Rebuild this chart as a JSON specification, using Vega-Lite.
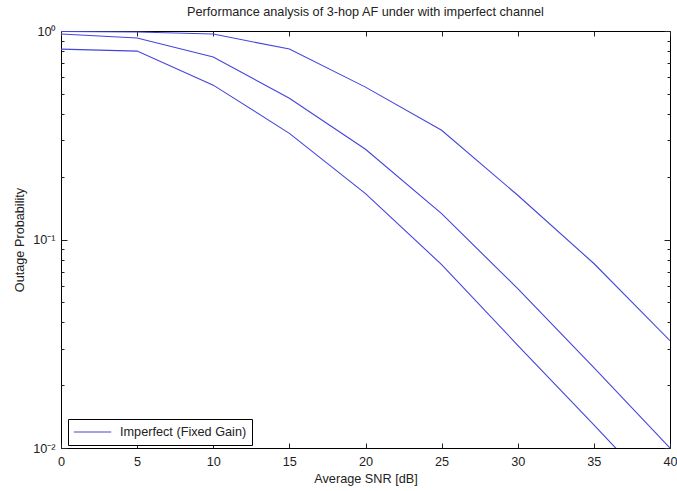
{
  "$schema": "https://vega.github.io/schema/vega-lite/v6.json",
  "width": 609,
  "height": 417,
  "autosize": {"type": "none"},
  "padding": {"left": 61, "top": 31, "right": 7, "bottom": 43},
  "background": "white",
  "config": {
    "font": "Liberation Sans",
    "view": {"stroke": "#000", "strokeWidth": 1},
    "axis": {
      "domain": false,
      "grid": false,
      "tickColor": "#222",
      "labelColor": "#222",
      "labelFontSize": 12.7,
      "titleFontSize": 12.7,
      "titleFontWeight": "normal",
      "titleColor": "#222"
    }
  },
  "title": {
    "text": "Performance analysis of 3-hop AF under with imperfect channel",
    "fontSize": 12.7,
    "fontWeight": "normal",
    "color": "#222",
    "offset": 6
  },
  "data": {
    "values": [
      {"snr": 0, "p": 0.995, "curve": "A", "series": "Imperfect (Fixed Gain)"},
      {"snr": 5, "p": 0.989, "curve": "A", "series": "Imperfect (Fixed Gain)"},
      {"snr": 10, "p": 0.967, "curve": "A", "series": "Imperfect (Fixed Gain)"},
      {"snr": 15, "p": 0.819, "curve": "A", "series": "Imperfect (Fixed Gain)"},
      {"snr": 20, "p": 0.538, "curve": "A", "series": "Imperfect (Fixed Gain)"},
      {"snr": 25, "p": 0.334, "curve": "A", "series": "Imperfect (Fixed Gain)"},
      {"snr": 30, "p": 0.163, "curve": "A", "series": "Imperfect (Fixed Gain)"},
      {"snr": 35, "p": 0.0767, "curve": "A", "series": "Imperfect (Fixed Gain)"},
      {"snr": 40, "p": 0.0327, "curve": "A", "series": "Imperfect (Fixed Gain)"},
      {"snr": 0, "p": 0.967, "curve": "B", "series": "Imperfect (Fixed Gain)"},
      {"snr": 5, "p": 0.925, "curve": "B", "series": "Imperfect (Fixed Gain)"},
      {"snr": 10, "p": 0.75, "curve": "B", "series": "Imperfect (Fixed Gain)"},
      {"snr": 15, "p": 0.476, "curve": "B", "series": "Imperfect (Fixed Gain)"},
      {"snr": 20, "p": 0.271, "curve": "B", "series": "Imperfect (Fixed Gain)"},
      {"snr": 25, "p": 0.133, "curve": "B", "series": "Imperfect (Fixed Gain)"},
      {"snr": 30, "p": 0.0581, "curve": "B", "series": "Imperfect (Fixed Gain)"},
      {"snr": 35, "p": 0.0243, "curve": "B", "series": "Imperfect (Fixed Gain)"},
      {"snr": 40, "p": 0.01, "curve": "B", "series": "Imperfect (Fixed Gain)"},
      {"snr": 0, "p": 0.819, "curve": "C", "series": "Imperfect (Fixed Gain)"},
      {"snr": 5, "p": 0.801, "curve": "C", "series": "Imperfect (Fixed Gain)"},
      {"snr": 10, "p": 0.55, "curve": "C", "series": "Imperfect (Fixed Gain)"},
      {"snr": 15, "p": 0.323, "curve": "C", "series": "Imperfect (Fixed Gain)"},
      {"snr": 20, "p": 0.166, "curve": "C", "series": "Imperfect (Fixed Gain)"},
      {"snr": 25, "p": 0.0758, "curve": "C", "series": "Imperfect (Fixed Gain)"},
      {"snr": 30, "p": 0.0311, "curve": "C", "series": "Imperfect (Fixed Gain)"},
      {"snr": 35, "p": 0.0129, "curve": "C", "series": "Imperfect (Fixed Gain)"},
      {"snr": 40, "p": 0.0053, "curve": "C", "series": "Imperfect (Fixed Gain)"}
    ]
  },
  "resolve": {"axis": {"x": "independent", "y": "independent"}},
  "layer": [
    {
      "mark": {"type": "line", "clip": true, "strokeWidth": 1.1},
      "encoding": {
        "x": {
          "field": "snr", "type": "quantitative",
          "scale": {"domain": [0, 40], "nice": false, "zero": false},
          "axis": {
            "orient": "bottom", "title": "Average SNR [dB]",
            "values": [0, 5, 10, 15, 20, 25, 30, 35, 40],
            "tickSize": -5, "labelPadding": 12, "titlePadding": 5,
            "labelFlush": false
          }
        },
        "y": {
          "field": "p", "type": "quantitative",
          "scale": {"type": "log", "domain": [0.01, 1], "nice": false},
          "axis": {
            "orient": "left", "title": "Outage Probability",
            "values": [0.01, 0.02, 0.03, 0.04, 0.05, 0.06, 0.07, 0.08, 0.09, 0.1, 0.2, 0.3, 0.4, 0.5, 0.6, 0.7, 0.8, 0.9, 1],
            "labelExpr": "datum.value == 1 ? '10⁰' : datum.value == 0.1 ? '10⁻¹' : datum.value == 0.01 ? '10⁻²' : ''",
            "tickSize": {"condition": {"test": "datum.value == 1 || datum.value == 0.1 || datum.value == 0.01", "value": -6}, "value": -3},
            "labelPadding": 12, "titlePadding": 6, "labelFlush": false
          }
        },
        "color": {
          "field": "series", "type": "nominal",
          "scale": {"range": ["#4444dc"]},
          "legend": {
            "orient": "none", "legendX": 7, "legendY": 388,
            "title": null, "strokeColor": "#000", "fillColor": "#fff",
            "padding": 5, "symbolType": "stroke", "symbolSize": 1400,
            "clipHeight": 16,
            "symbolStrokeWidth": 1.2, "labelFontSize": 12.7, "labelColor": "#222",
            "labelOffset": 8
          }
        },
        "detail": {"field": "curve"}
      }
    },
    {
      "mark": {"type": "line", "clip": true, "opacity": 0},
      "encoding": {
        "x": {
          "field": "snr", "type": "quantitative",
          "axis": {
            "orient": "top", "title": null, "labels": false,
            "values": [0, 5, 10, 15, 20, 25, 30, 35, 40],
            "tickSize": -5
          }
        },
        "y": {
          "field": "p", "type": "quantitative",
          "axis": {
            "orient": "right", "title": null, "labels": false,
            "values": [0.01, 0.02, 0.03, 0.04, 0.05, 0.06, 0.07, 0.08, 0.09, 0.1, 0.2, 0.3, 0.4, 0.5, 0.6, 0.7, 0.8, 0.9, 1],
            "tickSize": {"condition": {"test": "datum.value == 1 || datum.value == 0.1 || datum.value == 0.01", "value": -6}, "value": -3}
          }
        },
        "detail": {"field": "curve"}
      }
    }
  ]
}
